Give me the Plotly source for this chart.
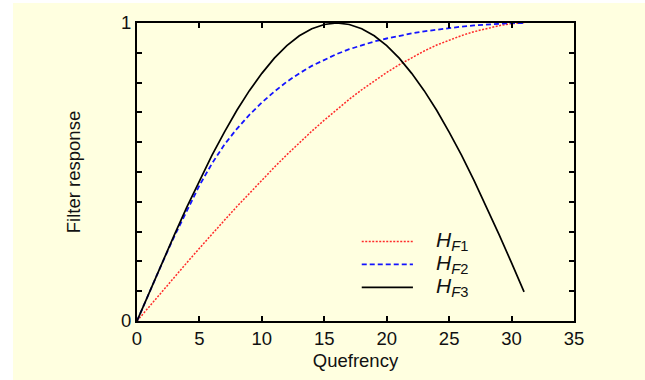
import plotly.graph_objects as go

quefrency = list(range(0, 32))
hf1 = [0.0, 0.050, 0.099, 0.148, 0.196, 0.244, 0.292, 0.338, 0.384, 0.429, 0.473,
       0.516, 0.558, 0.598, 0.637, 0.674, 0.710, 0.744, 0.776, 0.806, 0.834, 0.860,
       0.884, 0.906, 0.926, 0.943, 0.958, 0.971, 0.982, 0.991, 0.998, 1.0]
hf2 = [0.0, 0.098, 0.193, 0.285, 0.372, 0.455, 0.528, 0.592, 0.645, 0.692, 0.733,
       0.770, 0.803, 0.831, 0.856, 0.877, 0.896, 0.912, 0.926, 0.938, 0.948, 0.957,
       0.965, 0.972, 0.978, 0.983, 0.988, 0.992, 0.995, 0.998, 1.0, 1.0]
hf3 = [0.0, 0.098, 0.195, 0.290, 0.383, 0.471, 0.556, 0.634, 0.707, 0.773, 0.831,
       0.882, 0.924, 0.957, 0.981, 0.995, 1.0, 0.995, 0.981, 0.957, 0.924, 0.882,
       0.831, 0.773, 0.707, 0.634, 0.556, 0.471, 0.383, 0.290, 0.195, 0.098]

series_names = ["<i>H</i><sub><i>F</i>1</sub>", "<i>H</i><sub><i>F</i>2</sub>", "<i>H</i><sub><i>F</i>3</sub>"]
series_colors = ["#ff2a2a", "#1414ff", "#000000"]
series_dashes = ["2px,1.5px", "5px,3px", "solid"]
series_widths = [1.5, 1.8, 1.7]
series_values = [hf1, hf2, hf3]

x_ticks = [0, 5, 10, 15, 20, 25, 30, 35]
y_ticks = [0, 1]
y_minor_step = 0.1

BG = "#FFFFE0"
FONT = "Liberation Sans, Arial, sans-serif"
TXT = "#111111"

fig = go.Figure()
for name, vals, col, dash, w in zip(series_names, series_values, series_colors, series_dashes, series_widths):
    fig.add_trace(go.Scatter(x=quefrency, y=vals, mode="lines", name=name,
                             line=dict(color=col, dash=dash, width=w),
                             showlegend=False))

# manual legend (line samples + labels)
leg_rows = [0.267, 0.19, 0.113]
for name, col, dash, w, yy in zip(series_names, series_colors, series_dashes, series_widths, leg_rows):
    fig.add_shape(type="line", xref="x", yref="y", x0=18.0, x1=22.1, y0=yy, y1=yy,
                  line=dict(color=col, dash=dash, width=w))
    fig.add_annotation(x=23.8, y=yy, xref="x", yref="y", text=name, showarrow=False,
                       xanchor="left", yanchor="middle",
                       font=dict(family=FONT, size=21, color=TXT))

# white strips outside the yellow panel
fig.add_shape(type="rect", xref="paper", yref="paper", x0=-0.32, x1=-0.2838, y0=-0.3, y1=1.1,
              fillcolor="white", line_width=0, layer="below")
fig.add_shape(type="rect", xref="paper", yref="paper", x0=-0.32, x1=1.2, y0=1.0667, y1=1.1,
              fillcolor="white", line_width=0, layer="below")

axis_common = dict(showline=True, linecolor="black", linewidth=2, mirror="ticks",
                   ticks="inside", ticklen=5, tickwidth=1.5, tickcolor="black",
                   showgrid=False, zeroline=False,
                   tickfont=dict(family=FONT, size=18.5, color=TXT))

fig.update_xaxes(range=[0, 35], tickvals=x_ticks, **axis_common,
                 title=dict(text="Quefrency", font=dict(family=FONT, size=18.5, color=TXT), standoff=6))
fig.update_yaxes(range=[0, 1], tickvals=y_ticks, **axis_common,
                 minor=dict(dtick=y_minor_step, tick0=0, ticks="inside", ticklen=5,
                            tickwidth=1.5, tickcolor="black", showgrid=False),
                 title=dict(text="Filter response", font=dict(family=FONT, size=18.5, color=TXT), standoff=36))

fig.update_layout(width=645, height=380, margin=dict(l=137, r=71, t=22, b=58),
                  paper_bgcolor=BG, plot_bgcolor=BG, font=dict(family=FONT))

fig.write_html("out.html", config={"displayModeBar": False},
               post_script="document.body.style.margin='0';")
